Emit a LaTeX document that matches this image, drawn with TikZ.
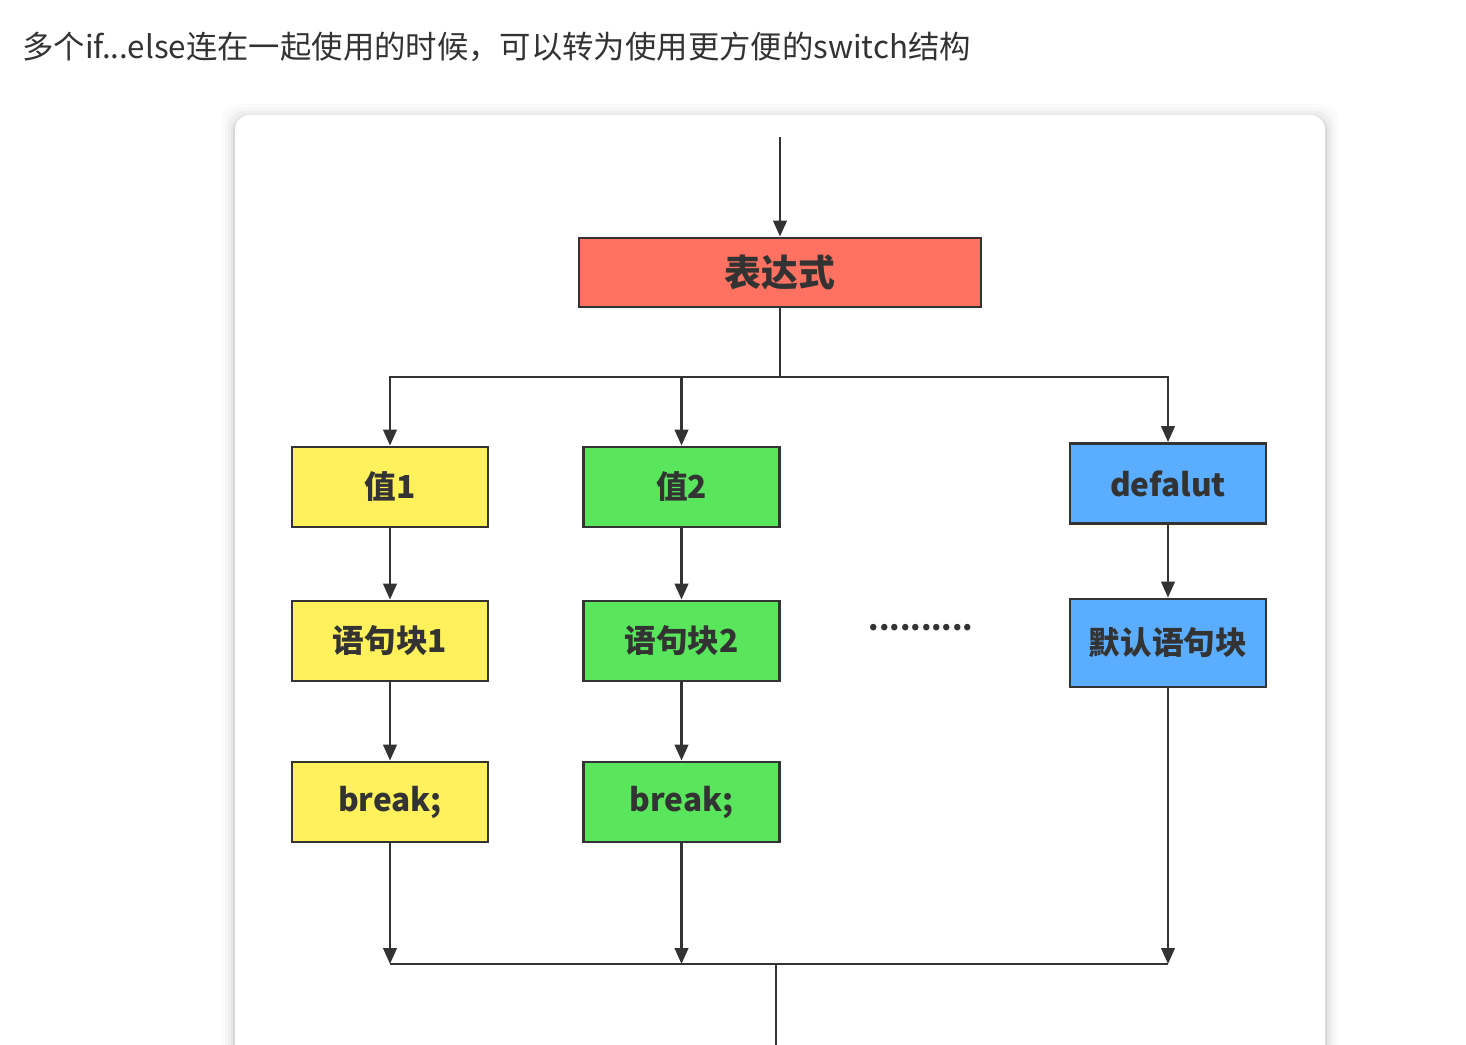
\documentclass[tikz,border=0pt]{standalone}
\usepackage{fontspec}
\setmainfont{Noto Sans CJK SC}
\usetikzlibrary{arrows.meta, positioning, calc}

\definecolor{inkgray}{HTML}{333333}
\definecolor{exprred}{HTML}{FF7261}
\definecolor{caseyellow}{HTML}{FFF15B}
\definecolor{casegreen}{HTML}{5AE65C}
\definecolor{caseblue}{HTML}{5BAEFF}

\begin{document}
\begin{tikzpicture}[x=0.02cm, y=-0.02cm,
            case box/.style={draw=inkgray, line width=1.6pt, minimum width=3.92cm,
                             minimum height=1.6cm, font=\fontsize{18}{20}\selectfont\bfseries,
                             text=inkgray},
            expr box/.style={case box, fill=exprred, minimum width=8.04cm, minimum height=1.38cm,
                             font=\fontsize{21}{24}\selectfont\bfseries},
            link/.style={draw=inkgray, line width=1.5pt},
            flow/.style={link, -{Triangle[length=0.32cm, width=0.27cm]}}]

            \useasboundingbox (0,0) rectangle (1466,1044);
            \clip (0,0) rectangle (1466,1044);

            % page heading
            \node[anchor=west, text=inkgray, font=\fontsize{17.85}{20}\selectfont, inner sep=0pt]
                (heading) at (22,47) {多个if...else连在一起使用的时候，可以转为使用更方便的switch结构};

            % card with soft shadow
            \foreach \s/\o in {14/0.015, 10/0.02, 7/0.03, 4/0.04, 2/0.06} {
                \fill[black, opacity=\o, rounded corners=0.34cm]
                    (235-\s,115-\s+3) rectangle (1325+\s,1200);
            }
            \fill[white, rounded corners=0.3cm] (235,115) rectangle (1325,1200);

            % nodes
            \node[expr box] (expr) at (780,272.5) {表达式};

            \node[case box, fill=caseyellow] (val1) at (390,487) {值1};
            \node[case box, fill=casegreen]  (val2) at (681.5,487) {值2};
            \node[case box, fill=caseblue]   (dflt) at (1168,483.5) {defalut};

            \node[case box, fill=caseyellow] (blk1) at (390,641) {语句块1};
            \node[case box, fill=casegreen]  (blk2) at (681.5,641) {语句块2};
            \node[case box, fill=caseblue, minimum height=1.76cm] (dblk) at (1168,643) {默认语句块};

            \node[case box, fill=caseyellow] (brk1) at (390,802) {break;};
            \node[case box, fill=casegreen]  (brk2) at (681.5,802) {break;};

            \node[text=inkgray, font=\fontsize{17}{20}\selectfont\bfseries] (more) at (921,628) {..........};

            % connectors
            \coordinate (entry) at (780,137);
            \coordinate (split) at (780,377);
            \coordinate (merge) at (776,964);
            \coordinate (exit) at (776,1060);

            \draw[flow] (entry) -- (expr);
            \draw[link] (expr) -- (split);
            \draw[flow] (split) -| (val1);
            \draw[flow] (split) -| (val2);
            \draw[flow] (split) -| (dflt);

            \draw[flow] (val1) -- (blk1);
            \draw[flow] (blk1) -- (brk1);
            \draw[flow] (val2) -- (blk2);
            \draw[flow] (blk2) -- (brk2);
            \draw[flow] (dflt) -- (dblk);

            \draw[flow] (brk1) -- (brk1 |- merge);
            \draw[flow] (brk2) -- (brk2 |- merge);
            \draw[flow] (dblk) -- (dblk |- merge);
            \draw[link] (brk1 |- merge) -- (dblk |- merge);
            \draw[link] (merge) -- (exit);
\end{tikzpicture}
\end{document}
